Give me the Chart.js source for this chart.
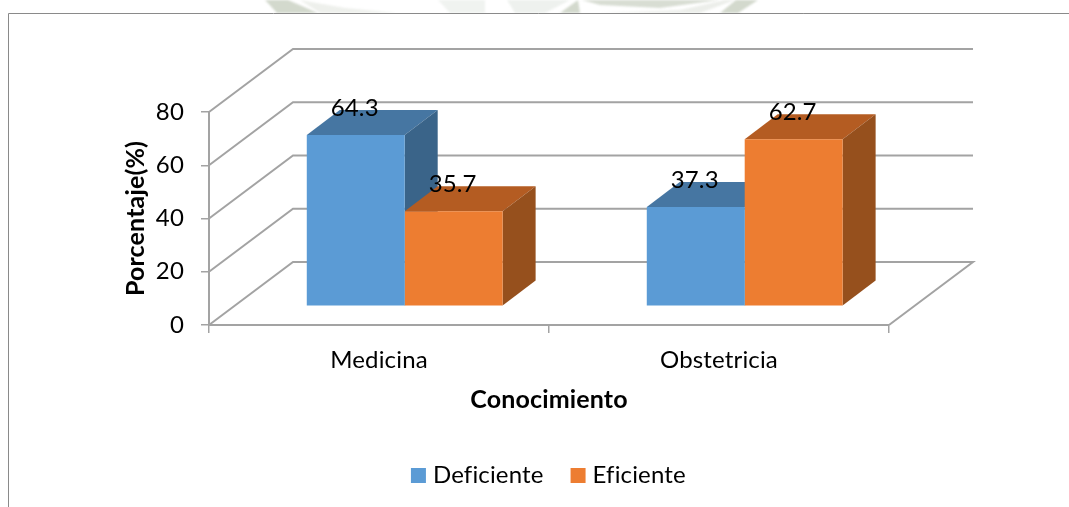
<!DOCTYPE html>
<html><head><meta charset="utf-8">
<style>html,body{margin:0;padding:0;background:#fff;overflow:hidden}canvas{display:block}</style>
<script src="https://cdn.jsdelivr.net/npm/chart.js@4"></script>
</head><body><canvas id="c" width="1069" height="507"></canvas>
<script>
const categories = ["Medicina", "Obstetricia"];
const deficiente = [64.3, 37.3];
const eficiente = [35.7, 62.7];
const yTicks = [0, 20, 40, 60, 80];

const FONT = "Lato, Carlito, sans-serif";
const GRID = "#a3a3a3";
const WALL = {dx: 84, dy: -63};
const BAR_OFFSET = {dx: 25.7, dy: -18.8};
const BAR_DEPTH = {dx: 33, dy: -25};
const LEGEND_SHIFT = {dx: 44, dy: -9.5};
const LABEL_GAP = 27;
const shades = [{top: "#4676a2", side: "#3a6489"}, {top: "#b45c22", side: "#96501d"}];

function poly(ctx, pts, fill) {
  ctx.beginPath();
  pts.forEach((p, i) => i ? ctx.lineTo(p[0], p[1]) : ctx.moveTo(p[0], p[1]));
  ctx.closePath();
  ctx.fillStyle = fill;
  ctx.fill();
}
const threeD = {
  id: "threeD",
  afterLayout(chart) {
    const lg = chart.legend;
    lg.left += LEGEND_SHIFT.dx; lg.right += LEGEND_SHIFT.dx;
    lg.top += LEGEND_SHIFT.dy; lg.bottom += LEGEND_SHIFT.dy;
  },
  beforeDraw(chart) {
    const ctx = chart.ctx;
    ctx.letterSpacing = "0.15px"; // keeps "fi" as two separate letters, as in the reference
    ctx.save();
    // faint watermark behind the top edge of the page
    ctx.filter = "blur(1px)";
    poly(ctx, [[265, 0], [288, 0], [318, 13], [277, 13]], "#d3d9cd");
    poly(ctx, [[300, 0], [345, 8], [397, 13], [320, 13]], "#eef0ec");
    poly(ctx, [[438, 0], [485, 0], [485, 13], [450, 13]], "#f0f3f0");
    poly(ctx, [[507, 0], [570, 0], [545, 13], [515, 13]], "#eef1ee");
    poly(ctx, [[560, 13], [578, 0], [580, 13]], "#d3d9cd");
    poly(ctx, [[582, 0], [720, 0], [660, 8], [600, 5]], "#d8ddd3");
    poly(ctx, [[600, 13], [680, 10], [725, 0], [735, 0], [700, 13]], "#eceeea");
    poly(ctx, [[720, 13], [736, 0], [758, 0], [738, 13]], "#d3d9cd");
    ctx.filter = "none";
    // frame
    ctx.fillStyle = "#fff";
    ctx.fillRect(8, 13, 1061, 494);
    ctx.strokeStyle = "#8a8a8a";
    ctx.lineWidth = 1;
    ctx.beginPath(); ctx.moveTo(8.5, 507); ctx.lineTo(8.5, 13.5); ctx.lineTo(1069, 13.5); ctx.stroke();
    ctx.restore();
  },
  beforeDatasetsDraw(chart) {
    const {ctx, scales: {x, y}} = chart;
    ctx.save();
    // walls
    ctx.strokeStyle = GRID;
    ctx.lineWidth = 2;
    const l = x.left, r = x.right;
    yTicks.forEach(v => {
      const py = y.getPixelForValue(v);
      ctx.beginPath();
      ctx.moveTo(l, py);
      ctx.lineTo(l + WALL.dx, py + WALL.dy);
      ctx.lineTo(r + WALL.dx, py + WALL.dy);
      if (v === 0) ctx.lineTo(r, py);
      ctx.stroke();
    });
    ctx.restore();
    // top and side faces; the library then draws the front faces on the same offset
    ctx.save();
    ctx.translate(BAR_OFFSET.dx, BAR_OFFSET.dy);
    chart.data.datasets.forEach((ds, i) => {
      const s = shades[i];
      chart.getDatasetMeta(i).data.forEach(b => {
        const L = b.x - b.width / 2, R = b.x + b.width / 2, T = b.y, B = b.base;
        const dx = BAR_DEPTH.dx, dy = BAR_DEPTH.dy;
        poly(ctx, [[L, T], [R, T], [R + dx, T + dy], [L + dx, T + dy]], s.top);
        poly(ctx, [[R, T], [R + dx, T + dy], [R + dx, B + dy], [R, B]], s.side);
      });
    });
  },
  afterDatasetsDraw(chart) {
    const ctx = chart.ctx;
    ctx.restore();
    ctx.save();
    ctx.font = "24px " + FONT;
    ctx.fillStyle = "#000";
    ctx.textAlign = "center";
    ctx.textBaseline = "middle";
    chart.data.datasets.forEach((ds, i) => {
      chart.getDatasetMeta(i).data.forEach((b, j) => {
        ctx.fillText(ds.data[j].toFixed(1), b.x + BAR_OFFSET.dx - 1, b.y + BAR_OFFSET.dy - LABEL_GAP);
      });
    });
    ctx.restore();
  }
};

new Chart(document.getElementById("c"), {
  type: "bar",
  plugins: [threeD],
  data: {
    labels: categories,
    datasets: [
      {label: "Deficiente", data: deficiente, backgroundColor: "#5b9bd5", pointStyle: "rect", clip: false},
      {label: "Eficiente", data: eficiente, backgroundColor: "#ed7d31", pointStyle: "rect", clip: false}
    ]
  },
  options: {
    responsive: false,
    animation: false,
    layout: {padding: {left: 121, right: 180, top: 112, bottom: 0}},
    datasets: {bar: {categoryPercentage: 0.576, barPercentage: 1}},
    scales: {
      x: {
        afterFit(s) { s.height = 116; },
        grid: {drawOnChartArea: false, color: GRID, tickLength: 8, lineWidth: 1.5},
        border: {color: GRID, width: 2},
        ticks: {color: "#000", font: {family: FONT, size: 24}, padding: 13, maxRotation: 0},
        title: {display: true, text: "Conocimiento", color: "#000", font: {family: FONT, size: 25, weight: "bold"}, padding: {top: 0, bottom: 26}}
      },
      y: {
        min: 0, max: 80,
        afterFit(s) { s.width = 88; },
        afterBuildTicks(s) { s.ticks = yTicks.map(v => ({value: v})); },
        grid: {drawOnChartArea: false, color: GRID, tickLength: 8, lineWidth: 1.5},
        border: {color: GRID, width: 2},
        ticks: {color: "#000", font: {family: FONT, size: 24}, padding: 17},
        title: {display: true, text: "Porcentaje(%)", color: "#000", font: {family: FONT, size: 25, weight: "bold"}, padding: 0}
      }
    },
    plugins: {
      legend: {
        position: "bottom",
        labels: {
          color: "#000", usePointStyle: true, boxWidth: 5, boxHeight: 15, padding: 32,
          font: {family: FONT, size: 24}
        }
      },
      tooltip: {enabled: false}
    }
  }
});
</script>
</body></html>
